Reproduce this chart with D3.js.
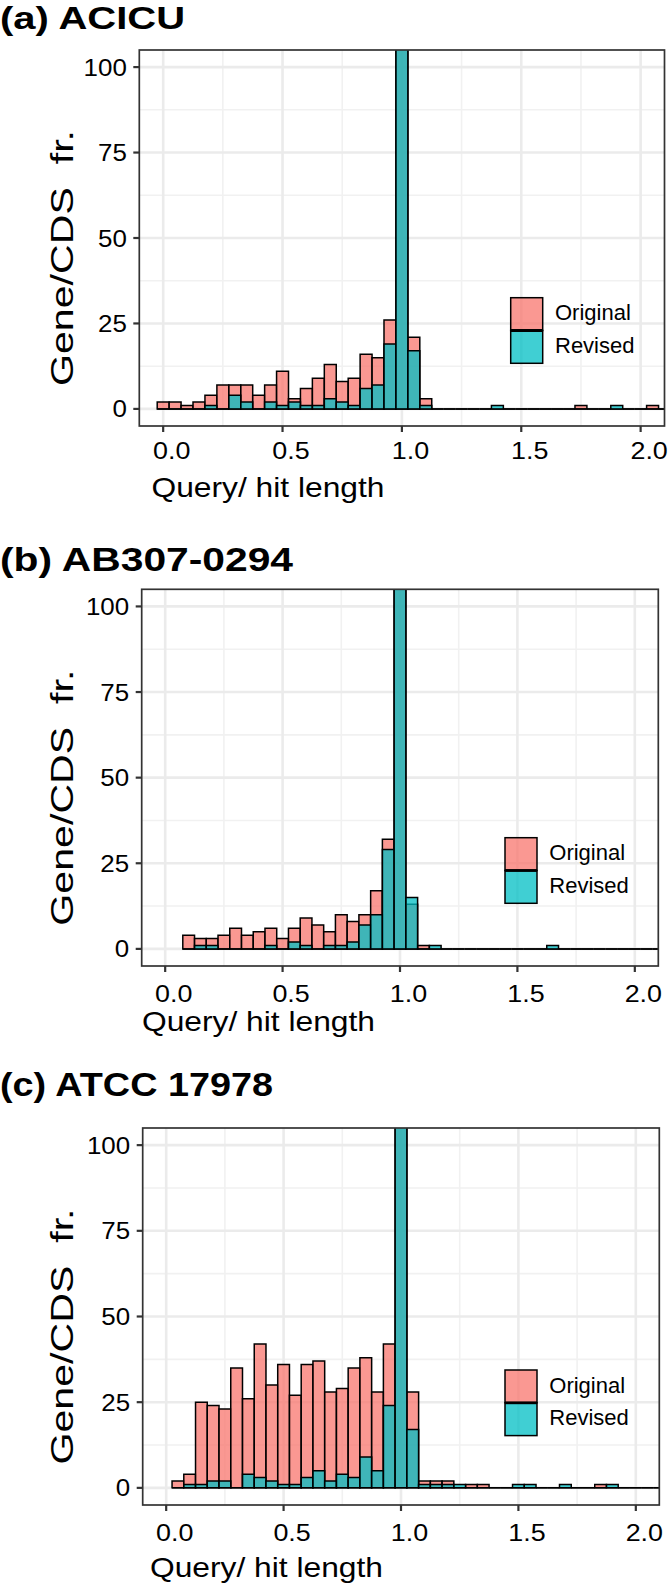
<!DOCTYPE html>
<html><head><meta charset="utf-8">
<script src="https://cdn.jsdelivr.net/npm/d3@7"></script>
<style>
body{margin:0;background:#fff}
svg{display:block}
text{font-family:"Liberation Sans",Arial,Helvetica,sans-serif;fill:#000}
</style>
</head><body>
<svg id="chart" width="669" height="1587"></svg>
<script>
// ---------------- data ----------------
const binWidth = 0.05;
const seriesNames = ["Original", "Revised"];
const panelTitles = ["(a) ACICU", "(b) AB307-0294", "(c) ATCC 17978"];
const xTitle = "Query/ hit length";
const yTitle = "Gene/CDS  fr.";
const xTicks = [0, 0.5, 1, 1.5, 2];
const xTickLabels = ["0.0", "0.5", "1.0", "1.5", "2.0"];
const xMinorTicks = [0.25, 0.75, 1.25, 1.75];
const yTicks = [0, 25, 50, 75, 100];
const yTickLabels = ["0", "25", "50", "75", "100"];
const yMinorTicks = [12.5, 37.5, 62.5, 87.5];

// centre of the first bin of each panel, then counts per 0.05 bin
const aFirstBin = 0.0;
const aOriginal = [2,2,1,2,4,7,7,7,4,7,11,3,6,9,13,8,9,16,15,26,180,21,3,0,0,0,0,0,0,0,0,0,0,0,0,1,0,0,0,0,0,1,0,0];
const aRevised  = [0,0,0,0,1,0,4,2,0,2,1,2,1,1,3,2,1,6,7,19,200,17,1,0,0,0,0,0,1,0,0,0,0,0,0,0,0,0,1,0,0,0,0,0];

const bFirstBin = 0.1;
const bOriginal = [4,3,3,4,6,4,5,6,3,6,9,7,5,10,8,10,17,32,180,13,1,0,0,0,0,0,0,0,0,0,0,0,0,0,0,0,0,0,0,0,0,0];
const bRevised  = [0,1,1,0,0,0,0,1,0,2,1,0,1,1,2,7,10,29,200,15,0,1,0,0,0,0,0,0,0,0,0,1,0,0,0,0,0,0,0,0,0,0];

const cFirstBin = 0.05;
const cOriginal = [2,4,25,24,23,35,26,42,30,36,27,36,37,28,29,35,38,28,42,180,28,2,2,2,0,1,1,0,0,0,0,0,0,0,0,0,1,0,0,0,0,0,0];
const cRevised  = [0,1,1,2,2,0,4,3,2,1,1,3,5,2,4,3,9,5,24,200,17,1,1,1,1,0,0,0,0,1,1,0,0,1,0,0,0,1,0,0,0,0,0];

const panelData = [
  {first: aFirstBin, series: [aOriginal, aRevised]},
  {first: bFirstBin, series: [bOriginal, bRevised]},
  {first: cFirstBin, series: [cOriginal, cRevised]}
];

// ---------------- layout / style ----------------
const xDomain = [-0.1, 2.1];
const yDomain = [-5, 105];
const fills = ["#F8766D", "#00BFC4"];
const fillOpacity = 0.75;

const layout = [
  {left:139.3, right:664.5, top:50,   bottom:426,  titleY:28.5, titleSize:32, titleW:185,
   xLabY:459,  xTitleX:151.5, xTitleY:497, yTitleX:73, legX:510.7, legY:297.7},
  {left:141.7, right:658.3, top:589.3, bottom:966, titleY:571, titleSize:34, titleW:293,
   xLabY:1001.5, xTitleX:142, xTitleY:1031, yTitleX:73, legX:505, legY:837.7},
  {left:142.7, right:659.3, top:1128, bottom:1505, titleY:1096, titleSize:34, titleW:273,
   xLabY:1541, xTitleX:150, xTitleY:1577, yTitleX:73, legX:505, legY:1370}
];

const svg = d3.select("#chart");

function stretchedText(g, str, x, y, size, anchor, sx, weight) {
  return g.append("text")
    .attr("transform", `translate(${x},${y}) scale(${sx},1)`)
    .attr("text-anchor", anchor)
    .attr("font-size", size)
    .attr("font-weight", weight || "normal")
    .text(str);
}

panelData.forEach((pd, i) => {
  const L = layout[i];
  const x = d3.scaleLinear().domain(xDomain).range([L.left, L.right]);
  const y = d3.scaleLinear().domain(yDomain).range([L.bottom, L.top]);
  const g = svg.append("g");

  // grid
  g.selectAll(".vmin").data(xMinorTicks).join("line")
    .attr("x1", d => x(d)).attr("x2", d => x(d)).attr("y1", L.top).attr("y2", L.bottom)
    .attr("stroke", "#F1F1F1").attr("stroke-width", 1.6);
  g.selectAll(".hmin").data(yMinorTicks).join("line")
    .attr("y1", d => y(d)).attr("y2", d => y(d)).attr("x1", L.left).attr("x2", L.right)
    .attr("stroke", "#F1F1F1").attr("stroke-width", 1.6);
  g.selectAll(".vmaj").data(xTicks).join("line")
    .attr("x1", d => x(d)).attr("x2", d => x(d)).attr("y1", L.top).attr("y2", L.bottom)
    .attr("stroke", "#EBEBEB").attr("stroke-width", 2.6);
  g.selectAll(".hmaj").data(yTicks).join("line")
    .attr("y1", d => y(d)).attr("y2", d => y(d)).attr("x1", L.left).attr("x2", L.right)
    .attr("stroke", "#EBEBEB").attr("stroke-width", 2.6);

  // clip
  const clipId = "clip" + i;
  svg.append("clipPath").attr("id", clipId).append("rect")
    .attr("x", L.left).attr("y", L.top).attr("width", L.right - L.left).attr("height", L.bottom - L.top);
  const bars = g.append("g").attr("clip-path", `url(#${clipId})`);

  // bars drawn as closed paths so that empty bins still show their outline on y = 0
  pd.series.forEach((counts, s) => {
    const rows = counts.map((c, k) => ({c: pd.first + k * binWidth, n: c}));
    bars.append("g").selectAll("path").data(rows).join("path")
      .attr("d", d => {
        const x0 = x(d.c - binWidth / 2), x1 = x(d.c + binWidth / 2);
        const y0 = y(0), y1 = y(d.n);
        return `M${x0},${y0}H${x1}V${y1}H${x0}Z`;
      })
      .attr("fill", fills[s]).attr("fill-opacity", fillOpacity)
      .attr("stroke", "#000").attr("stroke-width", 1.5);
  });

  // panel border
  g.append("rect").attr("x", L.left).attr("y", L.top)
    .attr("width", L.right - L.left).attr("height", L.bottom - L.top)
    .attr("fill", "none").attr("stroke", "#333").attr("stroke-width", 1.7);

  // ticks
  g.selectAll(".xt").data(xTicks).join("line")
    .attr("x1", d => x(d)).attr("x2", d => x(d)).attr("y1", L.bottom).attr("y2", L.bottom + 6)
    .attr("stroke", "#333").attr("stroke-width", 2.2);
  g.selectAll(".yt").data(yTicks).join("line")
    .attr("y1", d => y(d)).attr("y2", d => y(d)).attr("x1", L.left - 6).attr("x2", L.left)
    .attr("stroke", "#333").attr("stroke-width", 2.2);

  // tick labels
  xTicks.forEach((t, j) => stretchedText(g, xTickLabels[j], x(t) + 8.5, L.xLabY, 24, "middle", 1.12));
  yTicks.forEach((t, j) => stretchedText(g, yTickLabels[j], L.left - 12.5, y(t) + 8.5, 24, "end", 1.08));

  // titles
  g.append("text").attr("x", 0).attr("y", L.titleY)
    .attr("font-size", L.titleSize).attr("font-weight", "bold")
    .attr("textLength", L.titleW).attr("lengthAdjust", "spacingAndGlyphs")
    .text(panelTitles[i]);
  g.append("text").attr("x", L.xTitleX).attr("y", L.xTitleY)
    .attr("font-size", 28).attr("textLength", 233).attr("lengthAdjust", "spacingAndGlyphs")
    .text(xTitle);
  const yc = (L.top + L.bottom) / 2 + 20;
  g.append("text").attr("transform", `translate(${L.yTitleX},${yc}) rotate(-90)`)
    .attr("text-anchor", "middle").attr("font-size", 31)
    .attr("textLength", 256).attr("lengthAdjust", "spacingAndGlyphs")
    .style("white-space", "pre")
    .text(yTitle);

  // legend
  const kw = 32, kh = 32.8;
  const leg = g.append("g");
  seriesNames.forEach((name, s) => {
    leg.append("rect").attr("x", L.legX).attr("y", L.legY + s * kh)
      .attr("width", kw).attr("height", kh)
      .attr("fill", fills[s]).attr("fill-opacity", fillOpacity)
      .attr("stroke", "#000").attr("stroke-width", 1.5);
    leg.append("text").attr("x", L.legX + 44.3).attr("y", L.legY + 22.5 + s * kh)
      .attr("font-size", 22).text(name);
  });
  leg.append("line").attr("x1", L.legX).attr("x2", L.legX + kw)
    .attr("y1", L.legY + kh).attr("y2", L.legY + kh)
    .attr("stroke", "#000").attr("stroke-width", 2.8);
});
</script>
</body></html>
